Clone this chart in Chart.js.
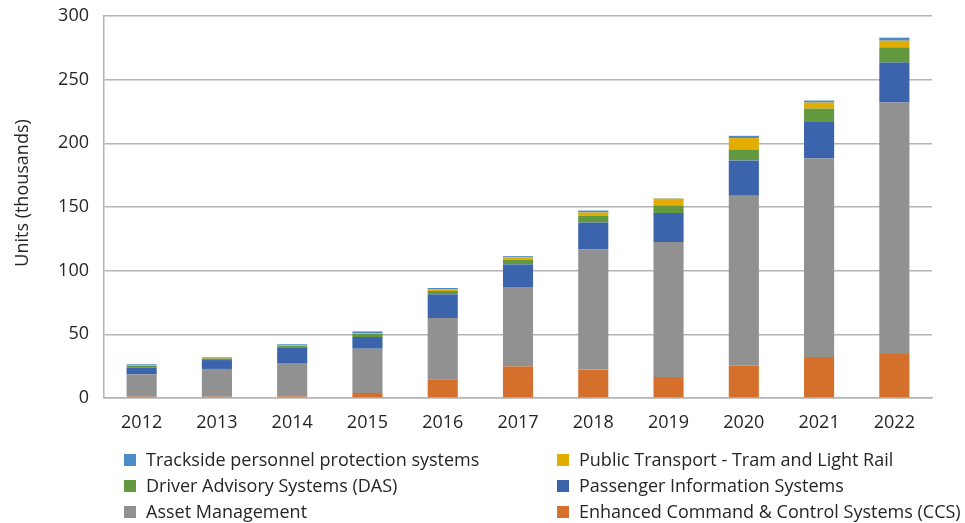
<!DOCTYPE html>
<html>
<head>
<meta charset="utf-8">
<script src="https://cdn.jsdelivr.net/npm/chart.js@4.4.1/dist/chart.umd.min.js"></script>
<style>
    html, body { margin: 0; padding: 0; background: #fff; }
    #wrap { width: 965px; height: 523px; }
</style>
</head>
<body>
<div id="wrap"><canvas id="chart_canvas" width="965" height="523"></canvas></div>
<script>
const years = ["2012", "2013", "2014", "2015", "2016", "2017", "2018", "2019", "2020", "2021", "2022"];
const ccsData = [1, 1, 1.2, 4, 14.4, 24.8, 22.3, 16.5, 25.6, 32.2, 34.6];
const assetData = [17.5, 21.8, 26.3, 34.7, 48.4, 62.3, 94.3, 106, 133.3, 155.8, 197.4];
const pisData = [5.5, 7, 11.8, 9.2, 18.6, 17.8, 21.2, 22.8, 27.7, 29.3, 31.4];
const dasData = [1.2, 1.2, 1.5, 2.4, 2.6, 3.7, 5.5, 6, 8.6, 10, 12];
const tramData = [0.5, 0.5, 0.5, 0.5, 1.3, 1.8, 2.4, 5.2, 8.9, 4.7, 5.2];
const tracksideData = [0.8, 0.5, 0.9, 1.5, 1.1, 1, 1.5, 0.3, 1.8, 1.6, 2.4];
const yTicks = [0, 50, 100, 150, 200, 250, 300];

const fontFamily = "'Open Sans', Lato, sans-serif";
const textColor = "#262626";
const gridColor = "#b4b4b4";

// legend drawn as a 2-column grid, like the original
const legendCols = [124, 557];
const legendRows = [460, 486, 512];

const gridLegend = {
    id: 'gridLegend',
    afterDraw: function(chart) {
        var ctx = chart.ctx;
        var items = chart.data.datasets.slice().reverse();
        ctx.save();
        ctx.font = "18px " + fontFamily;
        ctx.textBaseline = "middle";
        ctx.textAlign = "left";
        items.forEach(function(ds, i) {
            var x = legendCols[i % 2];
            var y = legendRows[Math.floor(i / 2)];
            ctx.fillStyle = ds.backgroundColor;
            ctx.fillRect(x, y - 6, 12, 12);
            ctx.fillStyle = textColor;
            ctx.fillText(ds.label, x + 22, y + 1);
        });
        ctx.restore();
    }
};

function makeSet(label, data, color) {
    return {
        label: label,
        data: data,
        backgroundColor: color,
        borderWidth: 0,
        barPercentage: 0.8,
        categoryPercentage: 0.5
    };
}

var context = document.getElementById("chart_canvas");
var chart = new Chart(context, {
    type: 'bar',
    data: {
        labels: years,
        datasets: [
            makeSet("Enhanced Command & Control Systems (CCS)", ccsData, "#d4702b"),
            makeSet("Asset Management", assetData, "#919191"),
            makeSet("Passenger Information Systems", pisData, "#3b64ad"),
            makeSet("Driver Advisory Systems (DAS)", dasData, "#62993e"),
            makeSet("Public Transport - Tram and Light Rail", tramData, "#e3ac00"),
            makeSet("Trackside personnel protection systems", tracksideData, "#4c8cc6")
        ]
    },
    options: {
        responsive: false,
        animation: false,
        layout: { padding: { top: 16, right: 33, left: 0, bottom: 0 } },
        plugins: {
            legend: { display: false },
            tooltip: { enabled: false }
        },
        scales: {
            x: {
                stacked: true,
                grid: { display: false, drawTicks: false },
                border: { display: true, color: gridColor, width: 1.5 },
                ticks: {
                    color: textColor,
                    padding: 14,
                    font: { family: fontFamily, size: 18 }
                },
                afterFit: function(scale) { scale.height = 125; }
            },
            y: {
                stacked: true,
                min: 0,
                max: 300,
                afterBuildTicks: function(scale) {
                    scale.ticks = yTicks.map(function(v) { return { value: v }; });
                },
                grid: { color: gridColor, lineWidth: 1.5, drawTicks: false },
                border: { display: true, color: gridColor, width: 1.5 },
                ticks: {
                    color: textColor,
                    padding: 15,
                    font: { family: fontFamily, size: 18 }
                },
                title: {
                    display: true,
                    text: "\u00a0\u00a0\u00a0\u00a0\u00a0\u00a0Units (thousands)",
                    color: textColor,
                    padding: { top: 12, bottom: 0 },
                    font: { family: fontFamily, size: 18 }
                },
                afterFit: function(scale) {
                    scale.width = 104;
                    scale.paddingTop = 0;
                    scale.paddingBottom = 0;
                }
            }
        }
    },
    plugins: [gridLegend]
});
</script>
</body>
</html>
